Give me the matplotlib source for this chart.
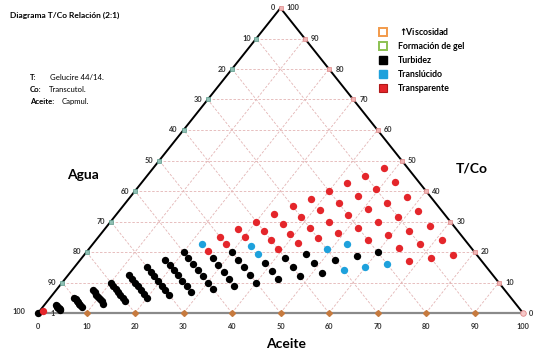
import matplotlib
matplotlib.use('Agg')
import matplotlib.pyplot as plt
from matplotlib.lines import Line2D

plt.rcParams['font.family'] = ['Lato', 'DejaVu Sans']

# Compositions (% Aceite, % T/Co; Agua = rest)
# Transparente (red)
red_aceite = [47.5, 52.3, 57, 61.8, 66.5, 71.3, 76,
              45, 49.5, 54, 58.5, 63, 67.5, 72,
              42.5, 46.8, 51, 55.3, 59.5, 63.8, 68,
              40, 44, 48, 52, 56,
              37.5, 41.3, 45, 48.8,
              35, 38.5, 42, 45.5,
              32.5, 35.8, 39, 42.3,
              30, 33, 36, 39,
              27.5, 30.3,
              25, 27.5,
              24.8,
              0.6]
red_tco = [47.5, 42.8, 38, 33.3, 28.5, 23.8, 19,
           45, 40.5, 36, 31.5, 27, 22.5, 18,
           42.5, 38.3, 34, 29.8, 25.5, 21.3, 17,
           40, 36, 32, 28, 24,
           37.5, 33.8, 30, 26.3,
           35, 31.5, 28, 24.5,
           32.5, 29.3, 26, 22.8,
           30, 27, 24, 21,
           27.5, 24.8,
           25, 22.5,
           20.3,
           0.7]

# Translucido (blue)
blue_aceite = [64, 52.5, 60, 49, 56, 33, 35.8, 22.5]
blue_tco = [16, 22.5, 15, 21, 14, 22, 19.3, 22.5]

# Turbidez (black)
black_aceite = [60, 56.3, 52.5,
                45.5, 48.8, 52,
                42, 45, 48,
                38.5, 41.3, 44,
                30, 32.5, 35, 37.5, 40,
                27, 29.3, 31.5, 33.8, 36,
                20, 22, 24, 26, 28, 30, 32,
                17.5, 19.3, 21, 22.8, 24.5, 26.3, 28,
                15, 16.5, 18, 19.5, 21, 22.5, 24,
                12.5, 13.8, 15, 16.3, 17.5, 18.8, 20,
                10, 11, 12, 13, 14, 15, 16,
                7.5, 8.3, 9, 9.8, 10.5, 11.3, 12,
                5, 5.5, 6, 6.5, 7, 7.5, 8,
                2.5, 2.8, 3, 3.3, 3.5, 3.8, 4,
                0]
black_tco = [20, 18.8, 17.5,
             19.5, 16.3, 13,
             18, 15, 12,
             16.5, 13.8, 11,
             20, 17.5, 15, 12.5, 10,
             18, 15.8, 13.5, 11.3, 9,
             20, 18, 16, 14, 12, 10, 8,
             17.5, 15.8, 14, 12.3, 10.5, 8.8, 7,
             15, 13.5, 12, 10.5, 9, 7.5, 6,
             12.5, 11.3, 10, 8.8, 7.5, 6.3, 5,
             10, 9, 8, 7, 6, 5, 4,
             7.5, 6.8, 6, 5.3, 4.5, 3.8, 3,
             5, 4.5, 4, 3.5, 3, 2.5, 2,
             2.5, 2.3, 2, 1.8, 1.5, 1.3, 1,
             0]

grid_levels = [10, 20, 30, 40, 50, 60, 70, 80, 90]
legend_labels = [r'$\mathbf{\uparrow}\!\!$Viscosidad', 'Formación de gel', 'Turbidez',
                 'Translúcido', 'Transparente']

GRID = '#e3b4b4'
TICK_TXT = '#333333'


def tern(aceite, tco):
    """Aceite/T-Co composition -> plot coords (Agua at bottom-left)."""
    xs = [a + t / 2 for a, t in zip(aceite, tco)]
    return xs, list(tco)


fig = plt.figure(figsize=(5.41, 3.56), dpi=100)
W, H = 541, 356
ax = fig.add_axes([38 / W, (H - 313) / H, 485 / W, 305 / H])
ax.set_xlim(0, 100)
ax.set_ylim(0, 100)
ax.set_axis_off()

# grid lines
for k in grid_levels:
    # constant T/Co (horizontal)
    x, y = tern([0, 100 - k], [k, k])
    ax.plot(x, y, color=GRID, lw=0.6, ls=(0, (3, 2)), zorder=1)
    # constant Aceite
    x, y = tern([k, k], [0, 100 - k])
    ax.plot(x, y, color=GRID, lw=0.6, ls=(0, (3, 2)), zorder=1)
    # constant Agua
    x, y = tern([100 - k, 0], [0, 100 - k])
    ax.plot(x, y, color=GRID, lw=0.6, ls=(0, (3, 2)), zorder=1)

# triangle sides
x, y = tern([0, 0], [0, 100])
ax.plot(x, y, color='black', lw=1.4, zorder=2, clip_on=False)
x, y = tern([100, 0], [0, 100])
ax.plot(x, y, color='black', lw=1.4, zorder=2, clip_on=False)
x, y = tern([0, 100], [0, 0])
ax.plot(x, y, color='#8a8a8a', lw=1.6, zorder=2, clip_on=False)

# tick markers and labels
fs_tick = 5.3
for k in grid_levels:
    bx, by = tern([k], [0])
    ax.plot(bx, by, marker='D', ms=3, color='#c67a3e', mec='#c67a3e', zorder=3, clip_on=False)
    lx, ly = tern([0], [k])
    ax.plot(lx, ly, marker='s', ms=2.8, color='#8fc0b4', mec='#5d9c8c', mew=0.5, zorder=3, clip_on=False)
    rx, ry = tern([100 - k], [k])
    ax.plot(rx, ry, marker='s', ms=2.8, color='#f0b4b4', mec='#e08888', mew=0.5, zorder=3, clip_on=False)

for k in [0] + grid_levels + [100]:
    bx, by = tern([k], [0])
    ax.annotate(str(k), (bx[0], by[0]), xytext=(0, -9.5), textcoords='offset points',
                ha='center', va='center', fontsize=fs_tick, fontweight='bold', color=TICK_TXT)
for k in grid_levels + [100]:
    lx, ly = tern([0], [k])
    ax.annotate(str(100 - k), (lx[0], ly[0]), xytext=(-4, 0), textcoords='offset points',
                ha='right', va='center', fontsize=fs_tick, fontweight='bold', color=TICK_TXT)
for k in [0] + grid_levels + [100]:
    rx, ry = tern([100 - k], [k])
    ax.annotate(str(k), (rx[0], ry[0]), xytext=(4.5, 0), textcoords='offset points',
                ha='left', va='center', fontsize=fs_tick, fontweight='bold', color=TICK_TXT)
# Agua 100 at bottom-left
ax.annotate('100', (0, 0), xytext=(-9, 1), textcoords='offset points',
            ha='right', va='center', fontsize=fs_tick, fontweight='bold', color=TICK_TXT)
ax.annotate('1', (0, 0), xytext=(9, -0.5), textcoords='offset points',
            ha='left', va='center', fontsize=fs_tick, fontweight='bold', color=TICK_TXT)

# vertex markers
tx, ty = tern([0], [100])
ax.plot(tx, ty, marker='s', ms=3, color='#f0b4b4', mec='#e08888', mew=0.5, zorder=3, clip_on=False)
rx, ry = tern([100], [0])
ax.plot(rx, ry, marker='o', ms=4, color='#f6c8c8', mec='#e08888', mew=0.6, zorder=3, clip_on=False)

# data points
x, y = tern(black_aceite, black_tco)
ax.scatter(x, y, s=28, color='black', lw=0, zorder=4, clip_on=False)
x, y = tern(blue_aceite, blue_tco)
ax.scatter(x, y, s=28, color='#1ea1dc', lw=0, zorder=4, clip_on=False)
x, y = tern(red_aceite, red_tco)
ax.scatter(x, y, s=28, color='#e4262b', lw=0, zorder=5, clip_on=False)

# axis titles
fig.text(83 / W, 1 - 175 / H, 'Agua', fontsize=10, fontweight='bold', ha='center', va='center')
fig.text(472 / W, 1 - 168 / H, 'T/Co', fontsize=10, fontweight='bold', ha='center', va='center')
fig.text(286 / W, 1 - 344 / H, 'Aceite', fontsize=10, fontweight='bold', ha='center', va='center')

# title + composition notes
fig.text(10 / W, 1 - 15 / H, 'Diagrama T/Co Relación (2:1)', fontsize=6, fontweight='bold',
         ha='left', va='center')
notes = [('T:', 'Gelucire 44/14.', 78, 50), ('Co:', 'Transcutol.', 90, 49), ('Aceite:', 'Capmul.', 102, 62)]
for key, val, ypx, xval in notes:
    fig.text(30 / W, 1 - ypx / H, key, fontsize=5.6, fontweight='bold', ha='left', va='center')
    fig.text(xval / W, 1 - ypx / H, val, fontsize=5.6, ha='left', va='center')

# legend
handles = [
    Line2D([], [], ls='none', marker='s', ms=5.5, mfc='white', mec='#f29a4a', mew=1.4),
    Line2D([], [], ls='none', marker='s', ms=5.5, mfc='white', mec='#8cc152', mew=1.4),
    Line2D([], [], ls='none', marker='s', ms=5.5, mfc='black', mec='black'),
    Line2D([], [], ls='none', marker='s', ms=5.5, mfc='#1ea1dc', mec='#1ea1dc'),
    Line2D([], [], ls='none', marker='s', ms=5.5, mfc='#e4262b', mec='#b01818', mew=0.8),
]
fig.legend(handles, legend_labels, loc='upper left', bbox_to_anchor=(374 / W, 1 - 22 / H),
           frameon=False, prop={'size': 6.3, 'weight': 'bold'}, handlelength=1.0,
           handletextpad=1.2, labelspacing=0.55, borderpad=0)

fig.savefig('out.png', dpi=100)
